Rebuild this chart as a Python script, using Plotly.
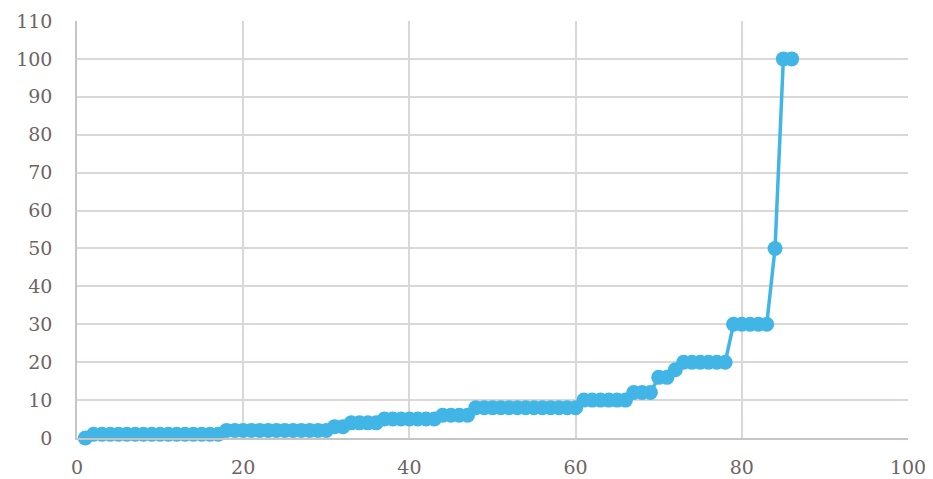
import plotly.graph_objects as go

x_vals = list(range(1, 87))
y_vals = ([0] + [1] * 16 + [2] * 13 + [3] * 2 + [4] * 4 + [5] * 7 + [6] * 4 +
          [8] * 13 + [10] * 6 + [12] * 3 + [16] * 2 + [18] + [20] * 6 +
          [30] * 5 + [50] + [100] * 2)

x_ticks = [0, 20, 40, 60, 80, 100]
y_ticks = [0, 10, 20, 30, 40, 50, 60, 70, 80, 90, 100, 110]

line_color = "#41b6e6"
text_color = "#6e6464"
grid_color = "#dbd7d7"

fig = go.Figure()
fig.add_trace(go.Scatter(
    x=x_vals, y=y_vals, mode="lines+markers",
    line=dict(color=line_color, width=3.5),
    marker=dict(color=line_color, size=15),
    showlegend=False, cliponaxis=False,
))

# page body has an 8px margin, so the figure is sized to fit the window
fig.update_layout(
    width=925, height=471,
    margin=dict(l=69, r=25, t=13, b=41, autoexpand=False),
    plot_bgcolor="white", paper_bgcolor="white",
    font=dict(family="DejaVu Serif", size=19, color=text_color),
)
fig.update_xaxes(
    range=[0, 100], tickvals=x_ticks, showgrid=True, gridcolor=grid_color,
    gridwidth=1.5, zeroline=False, showline=True, linecolor="#c8c4c4",
    linewidth=1.5, ticks="", ticklabelstandoff=11, automargin=False,
)
fig.update_yaxes(
    range=[0, 110], tickvals=y_ticks, showgrid=True, gridcolor=grid_color,
    gridwidth=1.5, zeroline=False, showline=True, linecolor="#c8c4c4",
    linewidth=1.5, ticks="", ticklabelstandoff=19, automargin=False,
)

fig.write_html("out.html")
